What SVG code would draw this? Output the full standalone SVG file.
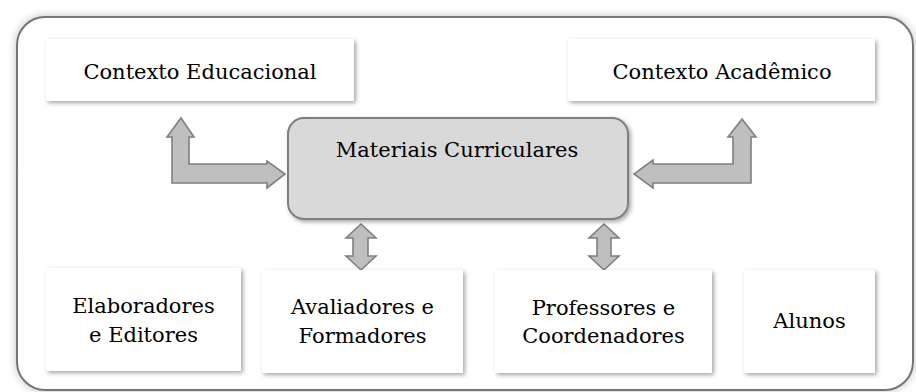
<svg xmlns="http://www.w3.org/2000/svg" width="916" height="392" viewBox="0 0 916 392">
<style>
.t{font-family:'DejaVu Serif','Liberation Serif',serif;font-size:21px;fill:#000;text-anchor:middle}
.box{fill:#fff;filter:url(#sh)}
.arr{fill:#bfbfbf;stroke:#7f7f7f;stroke-width:1.6;stroke-linejoin:miter}
</style>
<defs>
<filter id="sh" x="-10%" y="-10%" width="125%" height="130%">
<feDropShadow dx="2" dy="2" stdDeviation="2" flood-color="#000" flood-opacity="0.35"/>
</filter>
<filter id="glow" x="-5%" y="-5%" width="110%" height="110%">
<feGaussianBlur in="SourceAlpha" stdDeviation="4"/>
<feComponentTransfer><feFuncA type="linear" slope="0.25"/></feComponentTransfer>
<feMerge><feMergeNode/><feMergeNode in="SourceGraphic"/></feMerge>
</filter>
</defs>
<rect width="916" height="392" fill="#fff"/>
<g id="frame">
<rect x="17" y="17" width="896" height="373" rx="28" fill="#fff" stroke="#767676" stroke-width="2" filter="url(#glow)"/>
</g>
<g id="connectors">
<path class="arr" d="M181,118 L194,137 L189,137 L189,164 L267,164 L267,161 L285,174 L267,188 L267,183 L172,183 L172,137 L167,137 Z"/>
<path class="arr" d="M742,119 L756,137 L751,137 L751,183 L653,183 L653,188 L634,174 L653,160 L653,164 L733,164 L733,137 L728,137 Z"/>
<path class="arr" d="M361,224 L376,238 L368,238 L368,256 L376,256 L361,270 L346,256 L353,256 L353,238 L346,238 Z"/>
<path class="arr" d="M604,224 L619,238 L611,238 L611,256 L619,256 L604,270 L589,256 L597,256 L597,238 L589,238 Z"/>
</g>
<g id="contexto-educacional">
<rect class="box" x="46" y="39" width="308" height="62"/>
<text class="t" x="200" y="79">Contexto Educacional</text>
</g>
<g id="contexto-academico">
<rect class="box" x="568" y="39" width="307" height="62"/>
<text class="t" x="722" y="79">Contexto Acadêmico</text>
</g>
<g id="materiais-curriculares">
<rect x="288" y="118" width="340" height="101" rx="16" fill="#d9d9d9" stroke="#7f7f7f" stroke-width="2" filter="url(#sh)"/>
<text class="t" x="457" y="157">Materiais Curriculares</text>
</g>
<g id="elaboradores">
<rect class="box" x="46" y="268" width="195" height="103"/>
<text class="t" x="143.5" y="313">Elaboradores</text>
<text class="t" x="143.5" y="342">e Editores</text>
</g>
<g id="avaliadores">
<rect class="box" x="262" y="270" width="201" height="103"/>
<text class="t" x="362.5" y="314">Avaliadores e</text>
<text class="t" x="362.5" y="343">Formadores</text>
</g>
<g id="professores">
<rect class="box" x="495" y="270" width="217" height="103"/>
<text class="t" x="603.5" y="315">Professores e</text>
<text class="t" x="603.5" y="343">Coordenadores</text>
</g>
<g id="alunos">
<rect class="box" x="744" y="270" width="131" height="103"/>
<text class="t" x="809.5" y="328">Alunos</text>
</g>
</svg>
